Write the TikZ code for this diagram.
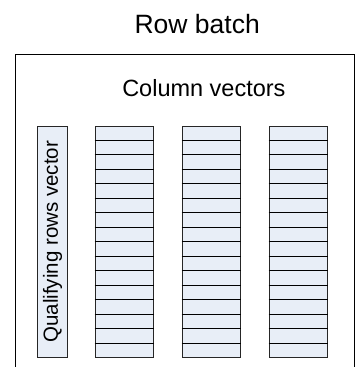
\documentclass[tikz,border=0pt]{standalone}
\usepackage{fontspec}
\setmainfont{Liberation Sans}
\usetikzlibrary{calc}
\definecolor{cellfill}{HTML}{E8EEF7}
\definecolor{edgegray}{HTML}{262626}
\begin{document}
\begin{tikzpicture}[x=1pt,y=-1pt,
  frameline/.style={draw=black,line width=1pt},
  vecbox/.style={rectangle,draw=edgegray,fill=cellfill,line width=1pt,inner sep=0pt,
    minimum height=231.5pt,anchor=north west},
  rowline/.style={draw=black,line width=0.9pt},
  title/.style={inner sep=0pt,anchor=base}]
\useasboundingbox (0,0) rectangle (356,367);

% open-bottomed frame of the row batch
\draw[frameline] (15.5,367) -- (15.5,54) -- (354,54) -- (354,367);

% headings
\node[title,font=\fontsize{26.5}{30}\selectfont] (rb) at (197.2,33.3) {Row batch};
\node[title,font=\fontsize{23.5}{27}\selectfont] (cv) at (203.9,96.7) {Column vectors};

% qualifying rows vector
\node[vecbox,minimum width=29.4pt] (qual) at (37.3,125.5) {};
\node[rotate=90,inner sep=0pt,font=\fontsize{20.5}{24}\selectfont] (qtext) at (qual.center) {Qualifying rows vector};

% column vectors with 16 cells each
\foreach \name/\xx in {c1/94.5,c2/181.5,c3/268.5}{
  \node[vecbox,minimum width=58pt] (\name) at (\xx,125.5) {};
  \foreach \i in {1,...,15}{
    \draw[rowline] ($(\name.north west)!\i/16!(\name.south west)$) -- ($(\name.north east)!\i/16!(\name.south east)$);
  }
}
\end{tikzpicture}
\end{document}
